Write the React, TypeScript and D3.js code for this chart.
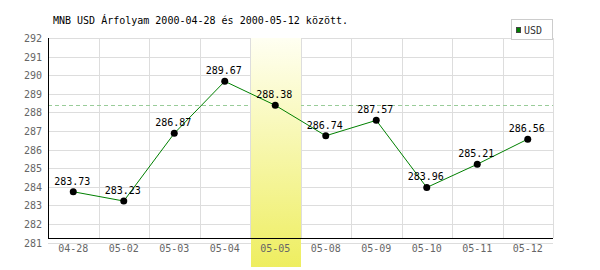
import React from "react";
import * as d3 from "d3";

const categories = ["04-28", "05-02", "05-03", "05-04", "05-05", "05-08", "05-09", "05-10", "05-11", "05-12"];
const values = [283.73, 283.23, 286.87, 289.67, 288.38, 286.74, 287.57, 283.96, 285.21, 286.56];
const yTicks = [281, 282, 283, 284, 285, 286, 287, 288, 289, 290, 291, 292];
const highlightIndex = 4;
const referenceValue = 288.38;
const title = "MNB USD Árfolyam 2000-04-28 és 2000-05-12 között.";
const seriesName = "USD";

export default function App() {
  const W = 600, H = 270;
  const left = 48, right = 553;
  const x = d3.scaleBand<string>().domain(categories).range([left, right]).padding(0);
  const y = d3.scaleLinear().domain([281, 292]).range([242.5, 38]);
  const axisY = 238;
  const mono = "'DejaVu Sans Mono', 'Liberation Mono', monospace";
  const line = d3
    .line<number>()
    .x((_, i) => x(categories[i])! + x.bandwidth() / 2)
    .y((d) => y(d));
  const hx = x(categories[highlightIndex])!;
  return (
    <div style={{ position: "absolute", left: 0, top: 0 }}>
      <svg width={W} height={H} style={{ display: "block" }}>
        <defs>
          <linearGradient id="hl" x1="0" y1="0" x2="0" y2="1">
            <stop offset="0" stopColor="#fffff2" />
            <stop offset="1" stopColor="#eeee60" />
          </linearGradient>
        </defs>
        <rect width={W} height={H} fill="#fff" />
        <text x={53} y={24} fontFamily={mono} fontSize={10} fill="#000">
          {title}
        </text>
        {/* horizontal gridlines */}
        {yTicks.map((t) => (
          <line key={t} x1={left} x2={right} y1={Math.round(y(t)) + 0.5} y2={Math.round(y(t)) + 0.5} stroke="#dddddd" />
        ))}
        {/* vertical gridlines */}
        {categories.map((c, i) => (
          <line key={c} x1={Math.round(x(c)!) + 0.5 + (i === 0 ? 0 : 0)} x2={Math.round(x(c)!) + 0.5} y1={38} y2={axisY} stroke="#dddddd" />
        ))}
        <line x1={right + 0.5} x2={right + 0.5} y1={38} y2={axisY} stroke="#dddddd" />
        {/* reference dashed line */}
        <line
          x1={left}
          x2={right}
          y1={Math.round(y(referenceValue)) + 0.5}
          y2={Math.round(y(referenceValue)) + 0.5}
          stroke="#99cc99"
          strokeDasharray="4,3"
        />
        {/* highlight band */}
        <rect x={Math.round(hx) + 1} y={38} width={Math.round(x.bandwidth()) - 1} height={229} fill="url(#hl)" />
        {/* axes */}
        <line x1={left + 0.5} x2={left + 0.5} y1={38} y2={axisY + 0.5} stroke="#000" />
        <line x1={left} x2={right} y1={axisY + 0.5} y2={axisY + 0.5} stroke="#000" />
        {yTicks.map((t) => (
          <text key={t} x={42} y={y(t) + 4} textAnchor="end" fontFamily={mono} fontSize={10} fill="#666">
            {t}
          </text>
        ))}
        {categories.map((c) => (
          <text key={c} x={x(c)! + x.bandwidth() / 2} y={252} textAnchor="middle" fontFamily={mono} fontSize={10} fill="#666">
            {c}
          </text>
        ))}
        {/* data */}
        <path d={line(values)!} fill="none" stroke="#008000" strokeWidth={1} />
        {values.map((v, i) => {
          const cx = x(categories[i])! + x.bandwidth() / 2;
          return (
            <g key={i}>
              <circle cx={cx} cy={y(v)} r={3.5} fill="#000" />
              <text x={cx - 1} y={y(v) - 7} textAnchor="middle" fontFamily={mono} fontSize={10} fill="#000">
                {v.toFixed(2)}
              </text>
            </g>
          );
        })}
        {/* legend */}
        <rect x={511.5} y={19.5} width={41} height={20} fill="#fff" stroke="#cccccc" />
        <rect x={516.5} y={27.5} width={4} height={5} fill="#008000" stroke="#444" />
        <text x={524} y={34} fontFamily={mono} fontSize={10} fill="#333">
          {seriesName}
        </text>
      </svg>
    </div>
  );
}
